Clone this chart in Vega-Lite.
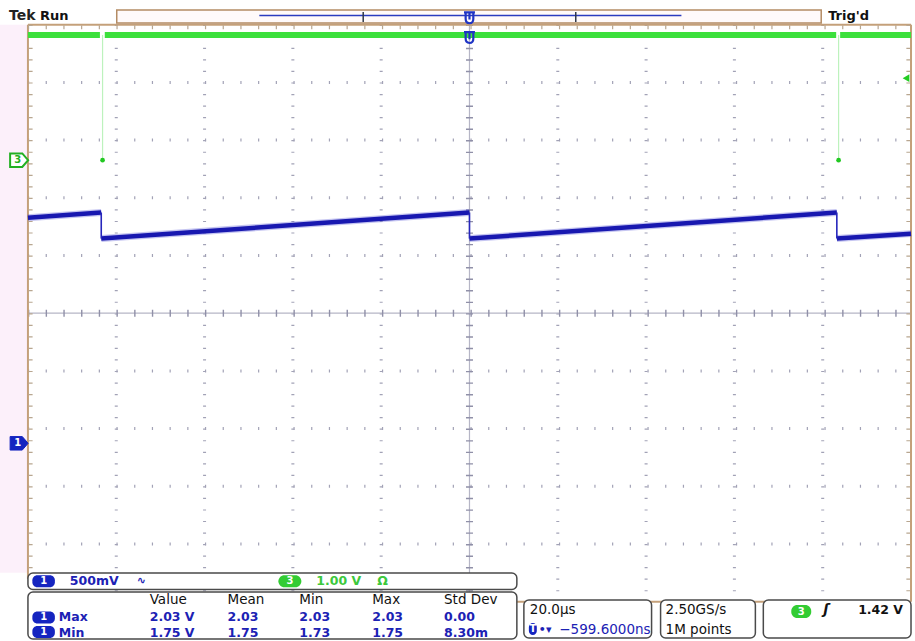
{
  "$schema": "https://vega.github.io/schema/vega-lite/v6.json",
  "width": 915,
  "height": 641,
  "autosize": {"type": "fit", "contains": "padding"},
  "padding": 0,
  "background": "white",
  "config": {"view": {"stroke": null}, "text": {"font": "DejaVu Sans"}},
  "datasets": {
    "one": [{}],
    "vgrid": [{"t": -80}, {"t": -60}, {"t": -40}, {"t": -20}, {"t": 20}, {"t": 40}, {"t": 60}, {"t": 80}],
    "hgrid": [{"d": 4}, {"d": 3}, {"d": 2}, {"d": 1}, {"d": -1}, {"d": -2}, {"d": -3}, {"d": -4}],
    "barticks": [{"t": -24.07}, {"t": 24.07}],
    "ch1": [
      {"seg": "a", "t": -100, "v": 1.955}, {"seg": "a", "t": -83.4, "v": 2.0},
      {"seg": "b", "t": -83.4, "v": 1.774}, {"seg": "b", "t": 0, "v": 2.0},
      {"seg": "c", "t": 0, "v": 1.774}, {"seg": "c", "t": 83.2, "v": 2.0},
      {"seg": "d", "t": 83.2, "v": 1.774}, {"seg": "d", "t": 100, "v": 1.817}
    ],
    "ch1drops": [{"t": -83.4, "hi": 2.0, "lo": 1.774}, {"t": 0, "hi": 2.0, "lo": 1.774}, {"t": 83.2, "hi": 2.0, "lo": 1.774}],
    "ch3": [
      {"seg": "a", "t": -100, "v": 2.17}, {"seg": "a", "t": -83.7, "v": 2.17},
      {"seg": "b", "t": -82.6, "v": 2.17}, {"seg": "b", "t": 83.05, "v": 2.17},
      {"seg": "c", "t": 83.95, "v": 2.17}, {"seg": "c", "t": 100, "v": 2.17}
    ],
    "ch3drops": [{"t": -83.1, "hi": 2.17, "lo": 0}, {"t": 83.6, "hi": 2.17, "lo": 0}],
    "trig": [{"t": 98.87, "v": 1.42}],
    "boxes": [
      {"t0": -100, "t1": 10.73, "d0": -4.503, "d1": -4.789},
      {"t0": -100, "t1": 10.73, "d0": -4.832, "d1": -5.646},
      {"t0": 12.32, "t1": 41.24, "d0": -4.971, "d1": -5.629},
      {"t0": 43.28, "t1": 64.75, "d0": -4.971, "d1": -5.629},
      {"t0": 66.55, "t1": 100.0, "d0": -4.971, "d1": -5.629}
    ],
    "bluebadges": [
      {"t0": -99.0, "t1": -93.9, "d0": -4.541, "d1": -4.749, "t": -96.45, "d": -4.645, "txt": "1"},
      {"t0": -99.0, "t1": -93.9, "d0": -5.169, "d1": -5.377, "t": -96.45, "d": -5.273, "txt": "1"},
      {"t0": -99.0, "t1": -93.9, "d0": -5.421, "d1": -5.629, "t": -96.45, "d": -5.525, "txt": "1"},
      {"t0": 13.45, "t1": 15.25, "d0": -5.369, "d1": -5.577, "t": 14.35, "d": -5.473, "txt": "T"}
    ],
    "greenbadges": [
      {"t0": -43.28, "t1": -38.08, "d0": -4.541, "d1": -4.749, "t": -40.68, "d": -4.645, "txt": "3"},
      {"t0": 72.88, "t1": 77.4, "d0": -5.057, "d1": -5.282, "t": 75.14, "d": -5.17, "txt": "3"}
    ],
    "blacktext": [
      {"t": -72.43, "d": -4.979, "txt": "Value"},
      {"t": -54.8, "d": -4.979, "txt": "Mean"},
      {"t": -38.53, "d": -4.979, "txt": "Min"},
      {"t": -22.03, "d": -4.979, "txt": "Max"},
      {"t": -5.76, "d": -4.979, "txt": "Std Dev"},
      {"t": 13.67, "d": -5.147, "txt": "20.0µs"},
      {"t": 44.41, "d": -5.147, "txt": "2.50GS/s"},
      {"t": 44.41, "d": -5.482, "txt": "1M points"}
    ],
    "bluetext": [
      {"t": -90.51, "d": -4.645, "txt": "500mV"},
      {"t": -93.0, "d": -5.265, "txt": "Max"},
      {"t": -93.0, "d": -5.534, "txt": "Min"},
      {"t": -72.43, "d": -5.265, "txt": "2.03 V"},
      {"t": -54.8, "d": -5.265, "txt": "2.03"},
      {"t": -38.53, "d": -5.265, "txt": "2.03"},
      {"t": -22.03, "d": -5.265, "txt": "2.03"},
      {"t": -5.76, "d": -5.265, "txt": "0.00"},
      {"t": -72.43, "d": -5.534, "txt": "1.75 V"},
      {"t": -54.8, "d": -5.534, "txt": "1.75"},
      {"t": -38.53, "d": -5.534, "txt": "1.73"},
      {"t": -22.03, "d": -5.534, "txt": "1.75"},
      {"t": -5.76, "d": -5.534, "txt": "8.30m"}
    ],
    "bluesmall": [
      {"t": -75.37, "d": -4.645, "txt": "∿"},
      {"t": 15.71, "d": -5.482, "txt": "•▾"}
    ],
    "blueright": [{"t": 41.02, "d": -5.482, "txt": "−599.6000ns"}],
    "greentext": [
      {"t": -34.69, "d": -4.645, "txt": "1.00 V"},
      {"t": -20.9, "d": -4.645, "txt": "Ω"}
    ],
    "boldtext": [
      {"t": -97.29, "d": 5.151, "txt": "Run"},
      {"t": 81.24, "d": 5.151, "txt": "Trig'd"}
    ],
    "tek": [{"t": -104.29, "d": 5.151, "txt": "Tek"}],
    "rightblack": [{"t": 98.19, "d": -5.147, "txt": "1.42 V"}],
    "slope": [{"t": 80.79, "d": -5.147, "txt": "ʃ"}],
    "ch1marker": [{"t": -102.0, "v": 0, "txt": "1"}],
    "ch3marker": [{"t": -102.0, "v": 0, "txt": "3"}],
    "tmarks": [{"t": 0, "d": 5.12}, {"t": 0, "d": 4.778}]
  },
  "layer": [
    {
      "data": {"name": "one"},
      "mark": {"type": "rect", "fill": "#fcf0fa"},
      "encoding": {
        "x": {"datum": -106.33, "type": "quantitative", "scale": {"domain": [-106.33, 100.45], "nice": false, "zero": false}, "axis": null},
        "x2": {"datum": -100},
        "y": {"datum": 5, "type": "quantitative", "scale": {"domain": [-5.681, 5.428], "nice": false, "zero": false}, "axis": null},
        "y2": {"datum": -4.5}
      }
    },
    {
      "data": {"name": "vgrid"},
      "mark": {"type": "rule", "color": "#a2a2b6", "strokeWidth": 3, "strokeDash": [1.2, 10.34]},
      "encoding": {
        "x": {"field": "t", "type": "quantitative", "scale": {"domain": [-106.33, 100.45], "nice": false, "zero": false}, "axis": null},
        "y": {"datum": 5, "type": "quantitative", "scale": {"domain": [-5.681, 5.428], "nice": false, "zero": false}, "axis": null},
        "y2": {"datum": -5}
      }
    },
    {
      "data": {"name": "hgrid"},
      "mark": {"type": "rule", "color": "#a2a2b6", "strokeWidth": 3, "strokeDash": [1.2, 16.5]},
      "encoding": {
        "y": {"field": "d", "type": "quantitative", "scale": {"domain": [-5.681, 5.428], "nice": false, "zero": false}, "axis": null},
        "x": {"datum": -100, "type": "quantitative", "scale": {"domain": [-106.33, 100.45], "nice": false, "zero": false}, "axis": null},
        "x2": {"datum": 100}
      }
    },
    {
      "data": {"name": "one"},
      "mark": {"type": "rule", "color": "#b6b6c6", "strokeWidth": 1.2},
      "encoding": {
        "x": {"datum": 0, "type": "quantitative", "scale": {"domain": [-106.33, 100.45], "nice": false, "zero": false}, "axis": null},
        "y": {"datum": 5, "type": "quantitative", "scale": {"domain": [-5.681, 5.428], "nice": false, "zero": false}, "axis": null},
        "y2": {"datum": -5}
      }
    },
    {
      "data": {"name": "one"},
      "mark": {"type": "rule", "color": "#b6b6c6", "strokeWidth": 1.2},
      "encoding": {
        "y": {"datum": 0, "type": "quantitative", "scale": {"domain": [-5.681, 5.428], "nice": false, "zero": false}, "axis": null},
        "x": {"datum": -100, "type": "quantitative", "scale": {"domain": [-106.33, 100.45], "nice": false, "zero": false}, "axis": null},
        "x2": {"datum": 100}
      }
    },
    {
      "data": {"name": "one"},
      "mark": {"type": "rule", "color": "#9090a8", "strokeWidth": 7, "strokeDash": [1.4, 10.14]},
      "encoding": {
        "x": {"datum": 0, "type": "quantitative", "scale": {"domain": [-106.33, 100.45], "nice": false, "zero": false}, "axis": null},
        "y": {"datum": 5, "type": "quantitative", "scale": {"domain": [-5.681, 5.428], "nice": false, "zero": false}, "axis": null},
        "y2": {"datum": -5}
      }
    },
    {
      "data": {"name": "one"},
      "mark": {"type": "rule", "color": "#9090a8", "strokeWidth": 7, "strokeDash": [1.4, 16.3]},
      "encoding": {
        "y": {"datum": 0, "type": "quantitative", "scale": {"domain": [-5.681, 5.428], "nice": false, "zero": false}, "axis": null},
        "x": {"datum": -100, "type": "quantitative", "scale": {"domain": [-106.33, 100.45], "nice": false, "zero": false}, "axis": null},
        "x2": {"datum": 100}
      }
    },
    {
      "data": {"name": "one"},
      "mark": {"type": "rule", "color": "#c4a07a", "strokeWidth": 2},
      "encoding": {
        "x": {"datum": -100, "type": "quantitative", "scale": {"domain": [-106.33, 100.45], "nice": false, "zero": false}, "axis": null},
        "y": {"datum": 5, "type": "quantitative", "scale": {"domain": [-5.681, 5.428], "nice": false, "zero": false}, "axis": null},
        "y2": {"datum": -4.6}
      }
    },
    {
      "data": {"name": "one"},
      "mark": {"type": "rule", "color": "#c4a07a", "strokeWidth": 2},
      "encoding": {
        "x": {"datum": 100, "type": "quantitative", "scale": {"domain": [-106.33, 100.45], "nice": false, "zero": false}, "axis": null},
        "y": {"datum": 5, "type": "quantitative", "scale": {"domain": [-5.681, 5.428], "nice": false, "zero": false}, "axis": null},
        "y2": {"datum": -5}
      }
    },
    {
      "data": {"name": "one"},
      "mark": {"type": "rule", "color": "#c4a07a", "strokeWidth": 2},
      "encoding": {
        "y": {"datum": 5, "type": "quantitative", "scale": {"domain": [-5.681, 5.428], "nice": false, "zero": false}, "axis": null},
        "x": {"datum": -100, "type": "quantitative", "scale": {"domain": [-106.33, 100.45], "nice": false, "zero": false}, "axis": null},
        "x2": {"datum": 100}
      }
    },
    {
      "data": {"name": "one"},
      "mark": {"type": "rule", "color": "#c4a07a", "strokeWidth": 2},
      "encoding": {
        "y": {"datum": -5, "type": "quantitative", "scale": {"domain": [-5.681, 5.428], "nice": false, "zero": false}, "axis": null},
        "x": {"datum": -100, "type": "quantitative", "scale": {"domain": [-106.33, 100.45], "nice": false, "zero": false}, "axis": null},
        "x2": {"datum": 100}
      }
    },
    {
      "data": {"name": "one"},
      "mark": {"type": "rule", "color": "#b8a690", "strokeWidth": 4, "strokeDash": [1.2, 10.34]},
      "encoding": {
        "x": {"datum": -99.4, "type": "quantitative", "scale": {"domain": [-106.33, 100.45], "nice": false, "zero": false}, "axis": null},
        "y": {"datum": 5, "type": "quantitative", "scale": {"domain": [-5.681, 5.428], "nice": false, "zero": false}, "axis": null},
        "y2": {"datum": -4.6}
      }
    },
    {
      "data": {"name": "one"},
      "mark": {"type": "rule", "color": "#b8a690", "strokeWidth": 4, "strokeDash": [1.2, 10.34]},
      "encoding": {
        "x": {"datum": 99.4, "type": "quantitative", "scale": {"domain": [-106.33, 100.45], "nice": false, "zero": false}, "axis": null},
        "y": {"datum": 5, "type": "quantitative", "scale": {"domain": [-5.681, 5.428], "nice": false, "zero": false}, "axis": null},
        "y2": {"datum": -5}
      }
    },
    {
      "data": {"name": "one"},
      "mark": {"type": "rule", "color": "#b8a690", "strokeWidth": 4, "strokeDash": [1.2, 16.5]},
      "encoding": {
        "y": {"datum": 4.955, "type": "quantitative", "scale": {"domain": [-5.681, 5.428], "nice": false, "zero": false}, "axis": null},
        "x": {"datum": -100, "type": "quantitative", "scale": {"domain": [-106.33, 100.45], "nice": false, "zero": false}, "axis": null},
        "x2": {"datum": 100}
      }
    },
    {
      "data": {"name": "one"},
      "mark": {"type": "rect", "fill": "#fffafa", "stroke": "#b48c64", "strokeWidth": 1.5},
      "encoding": {
        "x": {"datum": -79.89, "type": "quantitative", "scale": {"domain": [-106.33, 100.45], "nice": false, "zero": false}, "axis": null},
        "x2": {"datum": 79.66},
        "y": {"datum": 5.255, "type": "quantitative", "scale": {"domain": [-5.681, 5.428], "nice": false, "zero": false}, "axis": null},
        "y2": {"datum": 5.03}
      }
    },
    {
      "data": {"name": "one"},
      "mark": {"type": "rule", "color": "#2a3cc0", "strokeWidth": 1.5},
      "encoding": {
        "y": {"datum": 5.16, "type": "quantitative", "scale": {"domain": [-5.681, 5.428], "nice": false, "zero": false}, "axis": null},
        "x": {"datum": -47.6, "type": "quantitative", "scale": {"domain": [-106.33, 100.45], "nice": false, "zero": false}, "axis": null},
        "x2": {"datum": 48.0}
      }
    },
    {
      "data": {"name": "barticks"},
      "mark": {"type": "rule", "color": "#303848", "strokeWidth": 1.5},
      "encoding": {
        "x": {"field": "t", "type": "quantitative", "scale": {"domain": [-106.33, 100.45], "nice": false, "zero": false}, "axis": null},
        "y": {"datum": 5.221, "type": "quantitative", "scale": {"domain": [-5.681, 5.428], "nice": false, "zero": false}, "axis": null},
        "y2": {"datum": 5.048}
      }
    },
    {
      "data": {"name": "ch3drops"},
      "mark": {"type": "rule", "color": "#bdf2bd", "strokeWidth": 1.2},
      "encoding": {
        "x": {"field": "t", "type": "quantitative", "scale": {"domain": [-106.33, 100.45], "nice": false, "zero": false}, "axis": null},
        "y": {"field": "hi", "type": "quantitative", "scale": {"domain": [-8.333, 2.776], "nice": false, "zero": false}, "axis": null},
        "y2": {"field": "lo"}
      }
    },
    {
      "data": {"name": "ch3drops"},
      "mark": {"type": "point", "filled": true, "color": "#22c822", "size": 22, "opacity": 1},
      "encoding": {
        "x": {"field": "t", "type": "quantitative", "scale": {"domain": [-106.33, 100.45], "nice": false, "zero": false}, "axis": null},
        "y": {"field": "lo", "type": "quantitative", "scale": {"domain": [-8.333, 2.776], "nice": false, "zero": false}, "axis": null}
      }
    },
    {
      "data": {"name": "ch3"},
      "mark": {"type": "line", "color": "#3ce03c", "strokeWidth": 6, "strokeCap": "butt", "strokeJoin": "round", "clip": true},
      "encoding": {
        "x": {"field": "t", "type": "quantitative", "scale": {"domain": [-106.33, 100.45], "nice": false, "zero": false}, "axis": null},
        "y": {"field": "v", "type": "quantitative", "scale": {"domain": [-8.333, 2.776], "nice": false, "zero": false}, "axis": null},
        "detail": {"field": "seg"}
      }
    },
    {
      "data": {"name": "ch1"},
      "mark": {"type": "line", "color": "#5a5ad8", "strokeWidth": 7, "opacity": 0.35, "strokeCap": "butt", "strokeJoin": "round", "clip": true},
      "encoding": {
        "x": {"field": "t", "type": "quantitative", "scale": {"domain": [-106.33, 100.45], "nice": false, "zero": false}, "axis": null},
        "y": {"field": "v", "type": "quantitative", "scale": {"domain": [-1.713, 3.8415], "nice": false, "zero": false}, "axis": null},
        "detail": {"field": "seg"}
      }
    },
    {
      "data": {"name": "ch1"},
      "mark": {"type": "line", "color": "#1818b0", "strokeWidth": 4.5, "strokeCap": "butt", "strokeJoin": "round", "clip": true},
      "encoding": {
        "x": {"field": "t", "type": "quantitative", "scale": {"domain": [-106.33, 100.45], "nice": false, "zero": false}, "axis": null},
        "y": {"field": "v", "type": "quantitative", "scale": {"domain": [-1.713, 3.8415], "nice": false, "zero": false}, "axis": null},
        "detail": {"field": "seg"}
      }
    },
    {
      "data": {"name": "ch1drops"},
      "mark": {"type": "rule", "color": "#2626bc", "strokeWidth": 1.6},
      "encoding": {
        "x": {"field": "t", "type": "quantitative", "scale": {"domain": [-106.33, 100.45], "nice": false, "zero": false}, "axis": null},
        "y": {"field": "hi", "type": "quantitative", "scale": {"domain": [-1.713, 3.8415], "nice": false, "zero": false}, "axis": null},
        "y2": {"field": "lo"}
      }
    },
    {
      "data": {"name": "ch3marker"},
      "mark": {"type": "point", "shape": "M -1 -0.75 L 0.35 -0.75 L 1 0 L 0.35 0.75 L -1 0.75 Z", "size": 324, "filled": true, "fill": "white", "stroke": "#22b022", "strokeWidth": 2, "opacity": 1},
      "encoding": {
        "x": {"field": "t", "type": "quantitative", "scale": {"domain": [-106.33, 100.45], "nice": false, "zero": false}, "axis": null},
        "y": {"field": "v", "type": "quantitative", "scale": {"domain": [-8.333, 2.776], "nice": false, "zero": false}, "axis": null}
      }
    },
    {
      "data": {"name": "ch3marker"},
      "mark": {"type": "text", "color": "#22b022", "fontSize": 10, "fontWeight": "bold", "align": "center", "baseline": "middle", "dx": -1.5},
      "encoding": {
        "x": {"field": "t", "type": "quantitative", "scale": {"domain": [-106.33, 100.45], "nice": false, "zero": false}, "axis": null},
        "y": {"field": "v", "type": "quantitative", "scale": {"domain": [-8.333, 2.776], "nice": false, "zero": false}, "axis": null},
        "text": {"field": "txt"}
      }
    },
    {
      "data": {"name": "ch1marker"},
      "mark": {"type": "point", "shape": "M -1 -0.75 L 0.35 -0.75 L 1 0 L 0.35 0.75 L -1 0.75 Z", "size": 324, "filled": true, "fill": "#1525c0", "stroke": "#1525c0", "strokeWidth": 1, "opacity": 1},
      "encoding": {
        "x": {"field": "t", "type": "quantitative", "scale": {"domain": [-106.33, 100.45], "nice": false, "zero": false}, "axis": null},
        "y": {"field": "v", "type": "quantitative", "scale": {"domain": [-1.713, 3.8415], "nice": false, "zero": false}, "axis": null}
      }
    },
    {
      "data": {"name": "ch1marker"},
      "mark": {"type": "text", "color": "white", "fontSize": 10, "fontWeight": "bold", "align": "center", "baseline": "middle", "dx": -1.5},
      "encoding": {
        "x": {"field": "t", "type": "quantitative", "scale": {"domain": [-106.33, 100.45], "nice": false, "zero": false}, "axis": null},
        "y": {"field": "v", "type": "quantitative", "scale": {"domain": [-1.713, 3.8415], "nice": false, "zero": false}, "axis": null},
        "text": {"field": "txt"}
      }
    },
    {
      "data": {"name": "trig"},
      "mark": {"type": "point", "shape": "triangle-left", "size": 60, "filled": true, "color": "#22cc22", "opacity": 1},
      "encoding": {
        "x": {"field": "t", "type": "quantitative", "scale": {"domain": [-106.33, 100.45], "nice": false, "zero": false}, "axis": null},
        "y": {"field": "v", "type": "quantitative", "scale": {"domain": [-8.333, 2.776], "nice": false, "zero": false}, "axis": null}
      }
    },
    {
      "data": {"name": "tmarks"},
      "mark": {"type": "point", "shape": "M -0.7 -1 L -0.7 0.2 Q -0.7 1 0 1 Q 0.7 1 0.7 0.2 L 0.7 -1 M -1 -1 L 1 -1 M 0 -1 L 0 0.3", "size": 120, "filled": false, "stroke": "#1f34c4", "strokeWidth": 2.2, "opacity": 1},
      "encoding": {
        "x": {"field": "t", "type": "quantitative", "scale": {"domain": [-106.33, 100.45], "nice": false, "zero": false}, "axis": null},
        "y": {"field": "d", "type": "quantitative", "scale": {"domain": [-5.681, 5.428], "nice": false, "zero": false}, "axis": null}
      }
    },
    {
      "data": {"name": "boxes"},
      "mark": {"type": "rect", "fill": "white", "stroke": "#4a4a4a", "strokeWidth": 1.5, "cornerRadius": 5},
      "encoding": {
        "x": {"field": "t0", "type": "quantitative", "scale": {"domain": [-106.33, 100.45], "nice": false, "zero": false}, "axis": null},
        "x2": {"field": "t1"},
        "y": {"field": "d0", "type": "quantitative", "scale": {"domain": [-5.681, 5.428], "nice": false, "zero": false}, "axis": null},
        "y2": {"field": "d1"}
      }
    },
    {
      "data": {"name": "bluebadges"},
      "mark": {"type": "rect", "fill": "#1525c0", "cornerRadius": 5},
      "encoding": {
        "x": {"field": "t0", "type": "quantitative", "scale": {"domain": [-106.33, 100.45], "nice": false, "zero": false}, "axis": null},
        "x2": {"field": "t1"},
        "y": {"field": "d0", "type": "quantitative", "scale": {"domain": [-5.681, 5.428], "nice": false, "zero": false}, "axis": null},
        "y2": {"field": "d1"}
      }
    },
    {
      "data": {"name": "greenbadges"},
      "mark": {"type": "rect", "fill": "#33cc33", "cornerRadius": 6},
      "encoding": {
        "x": {"field": "t0", "type": "quantitative", "scale": {"domain": [-106.33, 100.45], "nice": false, "zero": false}, "axis": null},
        "x2": {"field": "t1"},
        "y": {"field": "d0", "type": "quantitative", "scale": {"domain": [-5.681, 5.428], "nice": false, "zero": false}, "axis": null},
        "y2": {"field": "d1"}
      }
    },
    {
      "data": {"name": "bluebadges"},
      "mark": {"type": "text", "color": "white", "fontSize": 10, "fontWeight": "bold", "align": "center", "baseline": "middle"},
      "encoding": {
        "x": {"field": "t", "type": "quantitative", "scale": {"domain": [-106.33, 100.45], "nice": false, "zero": false}, "axis": null},
        "y": {"field": "d", "type": "quantitative", "scale": {"domain": [-5.681, 5.428], "nice": false, "zero": false}, "axis": null},
        "text": {"field": "txt"}
      }
    },
    {
      "data": {"name": "greenbadges"},
      "mark": {"type": "text", "color": "white", "fontSize": 10, "fontWeight": "bold", "align": "center", "baseline": "middle"},
      "encoding": {
        "x": {"field": "t", "type": "quantitative", "scale": {"domain": [-106.33, 100.45], "nice": false, "zero": false}, "axis": null},
        "y": {"field": "d", "type": "quantitative", "scale": {"domain": [-5.681, 5.428], "nice": false, "zero": false}, "axis": null},
        "text": {"field": "txt"}
      }
    },
    {
      "data": {"name": "blacktext"},
      "mark": {"type": "text", "color": "#111111", "fontSize": 13.5, "align": "left", "baseline": "middle"},
      "encoding": {
        "x": {"field": "t", "type": "quantitative", "scale": {"domain": [-106.33, 100.45], "nice": false, "zero": false}, "axis": null},
        "y": {"field": "d", "type": "quantitative", "scale": {"domain": [-5.681, 5.428], "nice": false, "zero": false}, "axis": null},
        "text": {"field": "txt"}
      }
    },
    {
      "data": {"name": "bluetext"},
      "mark": {"type": "text", "color": "#1c22b4", "fontSize": 12.5, "fontWeight": "bold", "align": "left", "baseline": "middle"},
      "encoding": {
        "x": {"field": "t", "type": "quantitative", "scale": {"domain": [-106.33, 100.45], "nice": false, "zero": false}, "axis": null},
        "y": {"field": "d", "type": "quantitative", "scale": {"domain": [-5.681, 5.428], "nice": false, "zero": false}, "axis": null},
        "text": {"field": "txt"}
      }
    },
    {
      "data": {"name": "bluesmall"},
      "mark": {"type": "text", "color": "#1c22b4", "fontSize": 11, "fontWeight": "bold", "align": "left", "baseline": "middle"},
      "encoding": {
        "x": {"field": "t", "type": "quantitative", "scale": {"domain": [-106.33, 100.45], "nice": false, "zero": false}, "axis": null},
        "y": {"field": "d", "type": "quantitative", "scale": {"domain": [-5.681, 5.428], "nice": false, "zero": false}, "axis": null},
        "text": {"field": "txt"}
      }
    },
    {
      "data": {"name": "blueright"},
      "mark": {"type": "text", "color": "#1c22b4", "fontSize": 13.5, "align": "right", "baseline": "middle"},
      "encoding": {
        "x": {"field": "t", "type": "quantitative", "scale": {"domain": [-106.33, 100.45], "nice": false, "zero": false}, "axis": null},
        "y": {"field": "d", "type": "quantitative", "scale": {"domain": [-5.681, 5.428], "nice": false, "zero": false}, "axis": null},
        "text": {"field": "txt"}
      }
    },
    {
      "data": {"name": "greentext"},
      "mark": {"type": "text", "color": "#3cc83c", "fontSize": 12.5, "fontWeight": "bold", "align": "left", "baseline": "middle"},
      "encoding": {
        "x": {"field": "t", "type": "quantitative", "scale": {"domain": [-106.33, 100.45], "nice": false, "zero": false}, "axis": null},
        "y": {"field": "d", "type": "quantitative", "scale": {"domain": [-5.681, 5.428], "nice": false, "zero": false}, "axis": null},
        "text": {"field": "txt"}
      }
    },
    {
      "data": {"name": "boldtext"},
      "mark": {"type": "text", "color": "#111111", "fontSize": 13, "fontWeight": "bold", "align": "left", "baseline": "middle"},
      "encoding": {
        "x": {"field": "t", "type": "quantitative", "scale": {"domain": [-106.33, 100.45], "nice": false, "zero": false}, "axis": null},
        "y": {"field": "d", "type": "quantitative", "scale": {"domain": [-5.681, 5.428], "nice": false, "zero": false}, "axis": null},
        "text": {"field": "txt"}
      }
    },
    {
      "data": {"name": "tek"},
      "mark": {"type": "text", "color": "#222222", "fontSize": 14, "fontWeight": 900, "align": "left", "baseline": "middle"},
      "encoding": {
        "x": {"field": "t", "type": "quantitative", "scale": {"domain": [-106.33, 100.45], "nice": false, "zero": false}, "axis": null},
        "y": {"field": "d", "type": "quantitative", "scale": {"domain": [-5.681, 5.428], "nice": false, "zero": false}, "axis": null},
        "text": {"field": "txt"}
      }
    },
    {
      "data": {"name": "rightblack"},
      "mark": {"type": "text", "color": "#111111", "fontSize": 12.5, "fontWeight": "bold", "align": "right", "baseline": "middle"},
      "encoding": {
        "x": {"field": "t", "type": "quantitative", "scale": {"domain": [-106.33, 100.45], "nice": false, "zero": false}, "axis": null},
        "y": {"field": "d", "type": "quantitative", "scale": {"domain": [-5.681, 5.428], "nice": false, "zero": false}, "axis": null},
        "text": {"field": "txt"}
      }
    },
    {
      "data": {"name": "slope"},
      "mark": {"type": "text", "color": "#111111", "fontSize": 14, "fontWeight": "bold", "fontStyle": "italic", "align": "center", "baseline": "middle"},
      "encoding": {
        "x": {"field": "t", "type": "quantitative", "scale": {"domain": [-106.33, 100.45], "nice": false, "zero": false}, "axis": null},
        "y": {"field": "d", "type": "quantitative", "scale": {"domain": [-5.681, 5.428], "nice": false, "zero": false}, "axis": null},
        "text": {"field": "txt"}
      }
    }
  ],
  "resolve": {"scale": {"y": "independent"}}
}
